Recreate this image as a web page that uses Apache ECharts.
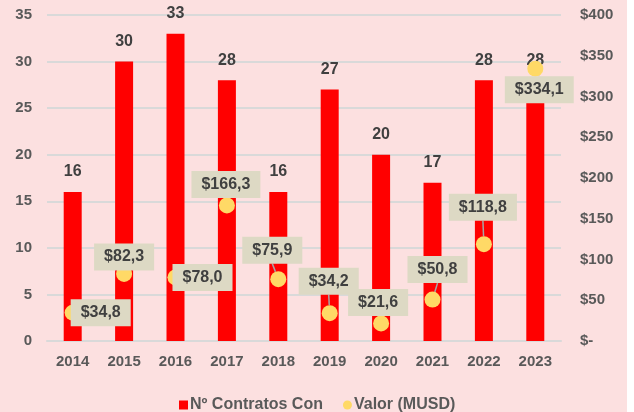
<!DOCTYPE html>
<html>
<head>
<meta charset="utf-8">
<script src="https://cdn.jsdelivr.net/npm/echarts@6/dist/echarts.min.js"></script>
<style>
html,body{margin:0;padding:0;background:#ffffff;}
#chart{width:627px;height:412px;background:#FCE0E0;}
</style>
</head>
<body>
<div id="chart"></div>
<script>
// ---- data ----
const years = ['2014','2015','2016','2017','2018','2019','2020','2021','2022','2023'];
const contratos = [16, 30, 33, 28, 16, 27, 20, 17, 28, 28];
const valorMUSD = [34.8, 82.3, 78.0, 166.3, 75.9, 34.2, 21.6, 50.8, 118.8, 334.1];
const leftTicks = { min: 0, max: 35, interval: 5 };
const rightTicks = { min: 0, max: 400, interval: 50 };
const seriesNames = ['Nº Contratos Con', 'Valor (MUSD)'];

// ---- label layout (pixel nudges for value labels) ----
const valueLabelShift = [
  [28, 0], [0, -17], [27, 0], [-1, -21], [-6, -29],
  [-1, -32], [-3, -21], [5, -30], [-1, -37], [4, 21]
];

const font = 'Liberation Sans, Arial, sans-serif';
const chart = echarts.init(document.getElementById('chart'), null, {renderer: 'canvas'});

function fmtMoney(v) {
  return '$' + v.toFixed(1).replace('.', ',');
}

chart.setOption({
  backgroundColor: '#FCE0E0',
  animation: false,
  textStyle: { fontFamily: font },
  grid: { left: 47, right: 66, top: 15, bottom: 71, containLabel: false },
  legend: {
    top: 392,
    left: 174,
    itemWidth: 9,
    itemHeight: 9,
    itemGap: 20,
    textStyle: { color: '#595959', fontSize: 16, fontWeight: 'bold', fontFamily: font, padding: [0,0,0,-3] },
    data: [
      { name: seriesNames[0], icon: 'rect', itemStyle: { color: '#FF0000' } },
      { name: seriesNames[1], icon: 'circle', itemStyle: { color: '#FFD966', opacity: 1 } }
    ]
  },
  xAxis: {
    type: 'category',
    data: years,
    axisTick: { show: false },
    axisLine: { show: true, lineStyle: { color: '#D9D9D9', width: 2 } },
    axisLabel: { color: '#595959', fontSize: 15, fontWeight: 'bold', margin: 13, fontFamily: font }
  },
  yAxis: [
    {
      type: 'value',
      min: leftTicks.min, max: leftTicks.max, interval: leftTicks.interval,
      axisLine: { show: false }, axisTick: { show: false },
      splitLine: { lineStyle: { color: '#D9D9D9', width: 2 } },
      axisLabel: { color: '#595959', fontSize: 15, fontWeight: 'bold', margin: 15, fontFamily: font }
    },
    {
      type: 'value',
      min: rightTicks.min, max: rightTicks.max, interval: rightTicks.interval,
      axisLine: { show: false }, axisTick: { show: false },
      splitLine: { show: false },
      axisLabel: {
        color: '#595959', fontSize: 15, fontWeight: 'bold', margin: 19, align: 'left', fontFamily: font,
        formatter: v => v === 0 ? '$-' : '$' + v
      }
    }
  ],
  series: [
    {
      name: seriesNames[0],
      type: 'bar',
      yAxisIndex: 0,
      data: contratos,
      barWidth: 18,
      itemStyle: { color: '#FF0000' },
      label: {
        show: true, position: 'top', distance: 12,
        color: '#404040', fontSize: 16, fontWeight: 'bold', fontFamily: font
      },
      z: 2
    },
    {
      name: seriesNames[1],
      type: 'scatter',
      yAxisIndex: 1,
      data: valorMUSD,
      symbol: 'circle',
      symbolSize: 16,
      itemStyle: { color: '#FFD966', opacity: 1 },
      label: {
        show: true,
        position: 'inside',
        formatter: p => fmtMoney(p.value),
        color: '#404040', fontSize: 16, fontWeight: 'bold', fontFamily: font,
        backgroundColor: '#DDD9C4',
        lineHeight: 17,
        padding: [5, 10, 5, 10]
      },
      labelLine: { show: true, lineStyle: { color: '#A6A6A6', width: 1.5 } },
      labelLayout: p => ({ dx: valueLabelShift[p.dataIndex][0], dy: valueLabelShift[p.dataIndex][1] }),
      z: 5
    }
  ]
});
</script>
</body>
</html>
